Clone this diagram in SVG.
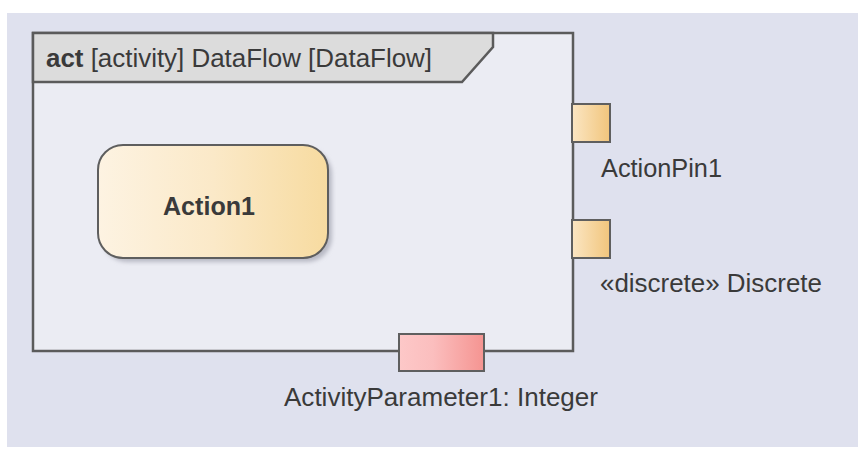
<svg xmlns="http://www.w3.org/2000/svg" width="858" height="452" viewBox="0 0 858 452">
  <defs>
    <linearGradient id="gAction" x1="0" y1="0" x2="1" y2="0">
      <stop offset="0" stop-color="#fdf3e2"/>
      <stop offset="0.5" stop-color="#fbe9c8"/>
      <stop offset="1" stop-color="#f7dba0"/>
    </linearGradient>
    <linearGradient id="gPin" x1="0" y1="0" x2="1" y2="0">
      <stop offset="0" stop-color="#fbe6c3"/>
      <stop offset="1" stop-color="#f1c57c"/>
    </linearGradient>
    <linearGradient id="gParam" x1="0" y1="0" x2="1" y2="0">
      <stop offset="0" stop-color="#fdc8c8"/>
      <stop offset="0.4" stop-color="#fbbebe"/>
      <stop offset="1" stop-color="#f59491"/>
    </linearGradient>
    <filter id="shadow" x="-10%" y="-10%" width="130%" height="130%">
      <feGaussianBlur stdDeviation="2"/>
    </filter>
  </defs>
  <style>
    .lbl { font-family: "Liberation Sans", Arial, sans-serif; font-size: 25px; fill: #3a3a3a; }
    .bold { font-weight: bold; }
    .edge { stroke: #5b5b5b; stroke-width: 2.5; }
    .pinedge { stroke: #5f5f5f; stroke-width: 2; }
  </style>

  <rect x="0" y="0" width="858" height="452" fill="#ffffff"/>
  <rect x="7" y="13" width="851" height="434" fill="#dfe1ee"/>

  <g id="frame">
    <rect x="33" y="33" width="540" height="318" fill="#ebecf3" class="edge"/>
    <path d="M33,33 H493 V47 L462,82 H33 Z" fill="#dcdcdc" class="edge" stroke-linejoin="miter"/>
    <text class="lbl" x="46" y="67" textLength="386" lengthAdjust="spacingAndGlyphs"><tspan class="bold">act</tspan> [activity] DataFlow [DataFlow]</text>
  </g>

  <g id="action1">
    <rect x="102" y="149" width="230" height="113" rx="25" ry="25" fill="#b8b9c4" filter="url(#shadow)"/>
    <rect x="98" y="145" width="230" height="113" rx="25" ry="25" fill="url(#gAction)" stroke="#5e5e5e" stroke-width="2"/>
    <text class="lbl bold" x="163" y="215" textLength="92" lengthAdjust="spacingAndGlyphs">Action1</text>
  </g>

  <g id="actionpin1">
    <rect x="572" y="104" width="38" height="38" fill="url(#gPin)" class="pinedge"/>
    <text class="lbl" x="601" y="177" textLength="121" lengthAdjust="spacingAndGlyphs">ActionPin1</text>
  </g>

  <g id="discrete">
    <rect x="572" y="220" width="38" height="38" fill="url(#gPin)" class="pinedge"/>
    <text class="lbl" x="600" y="292" textLength="222" lengthAdjust="spacingAndGlyphs">«discrete» Discrete</text>
  </g>

  <g id="activityparameter1">
    <rect x="399" y="334" width="85" height="37" fill="url(#gParam)" class="pinedge"/>
    <text class="lbl" x="284" y="406" textLength="314" lengthAdjust="spacingAndGlyphs">ActivityParameter1: Integer</text>
  </g>

  <g id="connectors"></g>
</svg>
